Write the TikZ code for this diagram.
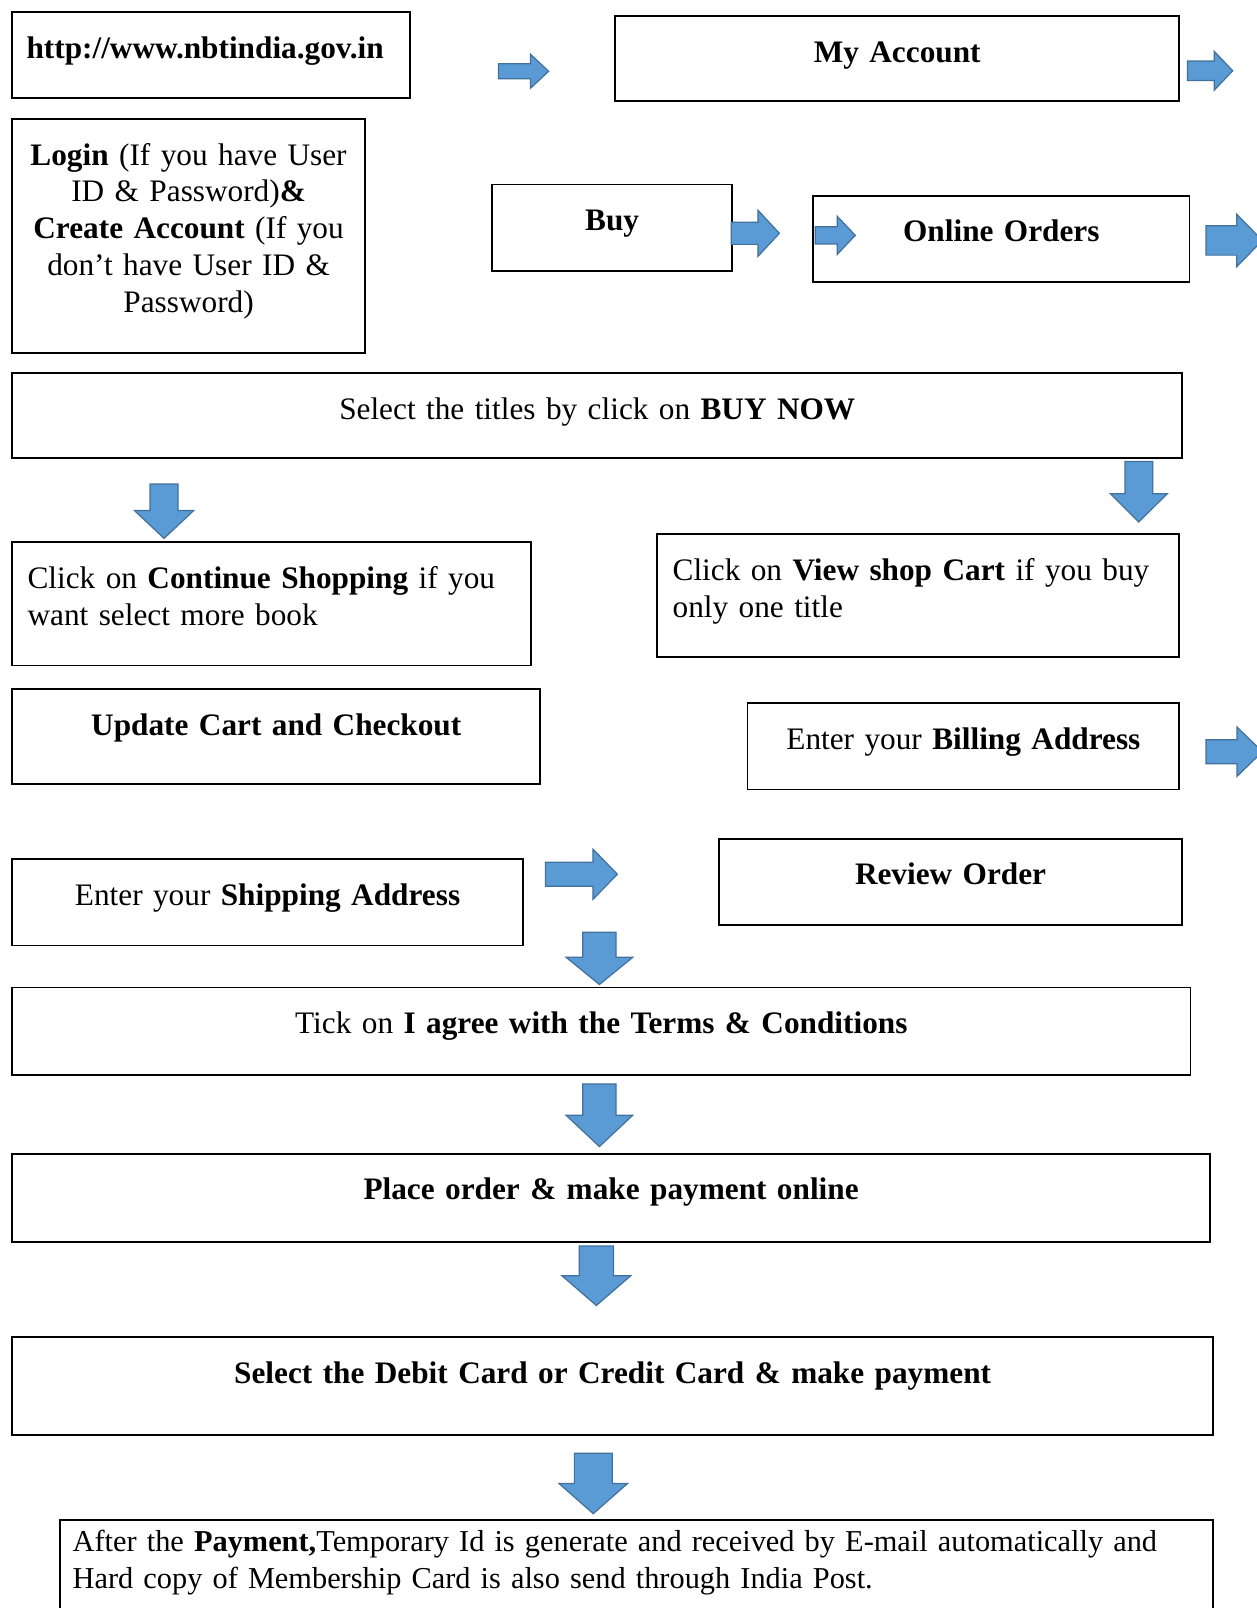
\documentclass[tikz,border=0pt]{standalone}
\usepackage{fontspec}
\setmainfont{Liberation Serif}
\usepackage{tikz}
\usetikzlibrary{positioning}
\definecolor{arrowblue}{RGB}{91,155,213}
\definecolor{arrowedge}{RGB}{65,113,156}
\tikzset{
  box/.style={draw, line width=1.8pt, anchor=north west, inner ysep=0pt, inner xsep=14pt,
    text height=45pt, align=center, font=\fontsize{30.5}{36}\selectfont},
  arrowfill/.style={fill=arrowblue, draw=arrowedge, line width=1.2pt},
  shaftw/.store in=\shaftw, shaftw=0.48,
  headpos/.store in=\headpos, headpos=0.1,
  rarrow/.pic={\path[arrowfill] (-1,-\shaftw) -- (\headpos,-\shaftw) -- (\headpos,-1) -- (1,0)
    -- (\headpos,1) -- (\headpos,\shaftw) -- (-1,\shaftw) -- cycle;},
  darrow/.pic={\path[arrowfill] (-\shaftw,-1) -- (-\shaftw,\headpos) -- (-1,\headpos) -- (0,1)
    -- (1,\headpos) -- (\shaftw,\headpos) -- (\shaftw,-1) -- cycle;},
}
\begin{document}
\begin{tikzpicture}[x=1pt,y=-1pt]
\useasboundingbox (0,0) rectangle (1225,1568);
\node[box, align=left, text width=360pt, text depth=39pt] (url) at (11,11) {\textbf{http://www.nbtindia.gov.in}};
\node[box, text width=522pt, text depth=38pt] (myacc) at (599,15) {\textbf{My Account}};
\node[box, inner xsep=10pt, text width=324pt, text depth=183pt] (login) at (11,115)
  {\textbf{Login} (If you have User\\ ID \& Password)\textbf{\&}\\ \textbf{Create Account} (If you\\ don't have User ID \&\\ Password)};
\node[box, text width=206pt, text depth=39pt] (buy) at (479,179) {\textbf{Buy}};
\node[box, text width=339pt, text depth=39pt] (online) at (792,190) {\textbf{Online Orders}};
\node[box, text width=1113pt, text depth=38pt] (titles) at (11,363) {Select the titles by click on \textbf{BUY NOW}};
\node[box, align=left, inner xsep=15pt, text width=476pt, text depth=75pt] (contshop) at (11,528)
  {Click on \textbf{Continue Shopping} if you\\ want select more book};
\node[box, align=left, inner xsep=15pt, text width=479pt, text depth=75pt] (viewcart) at (640,520)
  {Click on \textbf{View shop Cart} if you buy\\ only one title};
\node[box, text width=487pt, text depth=48pt] (update) at (11,671) {\textbf{Update Cart and Checkout}};
\node[box, text width=393pt, text depth=39pt] (billing) at (728,685) {Enter your \textbf{Billing Address}};
\node[box, text width=470pt, text depth=39pt] (shipping) at (11,837) {Enter your \textbf{Shipping Address}};
\node[box, text width=424pt, text depth=39pt] (review) at (700,817) {\textbf{Review Order}};
\node[box, text width=1121pt, text depth=40pt] (terms) at (11,962) {Tick on \textbf{I agree with the Terms \& Conditions}};
\node[box, text width=1140pt, text depth=41pt] (place) at (11,1124) {\textbf{Place order \& make payment online}};
\node[box, text width=1143pt, text depth=50pt] (card) at (11,1303) {\textbf{Select the Debit Card or Credit Card \& make payment}};
\node[box, align=left, inner xsep=12pt, text width=1100pt, text height=31pt, text depth=130pt,
  font=\fontsize{29.6}{36}\selectfont] (after) at (58,1481)
  {After the \textbf{Payment,}Temporary Id is generate and received by E-mail automatically and\\ Hard copy of Membership Card is also send through India Post.};
\pic[xscale=24.5, yscale=16.5, shaftw=0.44, headpos=0.28] at (510.5,69.5) {rarrow};
\pic[xscale=22, yscale=19, shaftw=0.5, headpos=0.18] at (1180,69) {rarrow};
\pic[xscale=23.5, yscale=22.5, shaftw=0.48, headpos=0.11] at (736.5,227.5) {rarrow};
\pic[xscale=19.5, yscale=18.5, shaftw=0.45, headpos=0.1] at (814.5,229.5) {rarrow};
\pic[xscale=27.5, yscale=25.5, shaftw=0.56, headpos=0.09] at (1203.5,234.5) {rarrow};
\pic[xscale=27.5, yscale=24, shaftw=0.49, headpos=0.1] at (1203.5,733) {rarrow};
\pic[xscale=35, yscale=24.5, shaftw=0.48, headpos=0.32] at (567,852.5) {rarrow};
\pic[xscale=29, yscale=26.5, shaftw=0.47, headpos=-0.03] at (160,498.5) {darrow};
\pic[xscale=27.5, yscale=29.5, shaftw=0.49, headpos=0.07] at (1110.5,479.5) {darrow};
\pic[xscale=32.5, yscale=25.5, shaftw=0.5, headpos=-0.04] at (584.5,934.5) {darrow};
\pic[xscale=32.5, yscale=30.5, shaftw=0.5, headpos=0] at (584.5,1087.5) {darrow};
\pic[xscale=33.5, yscale=29, shaftw=0.5, headpos=0] at (581.5,1244) {darrow};
\pic[xscale=33.5, yscale=29.5, shaftw=0.55, headpos=0] at (578.5,1446.5) {darrow};
\end{tikzpicture}
\end{document}
